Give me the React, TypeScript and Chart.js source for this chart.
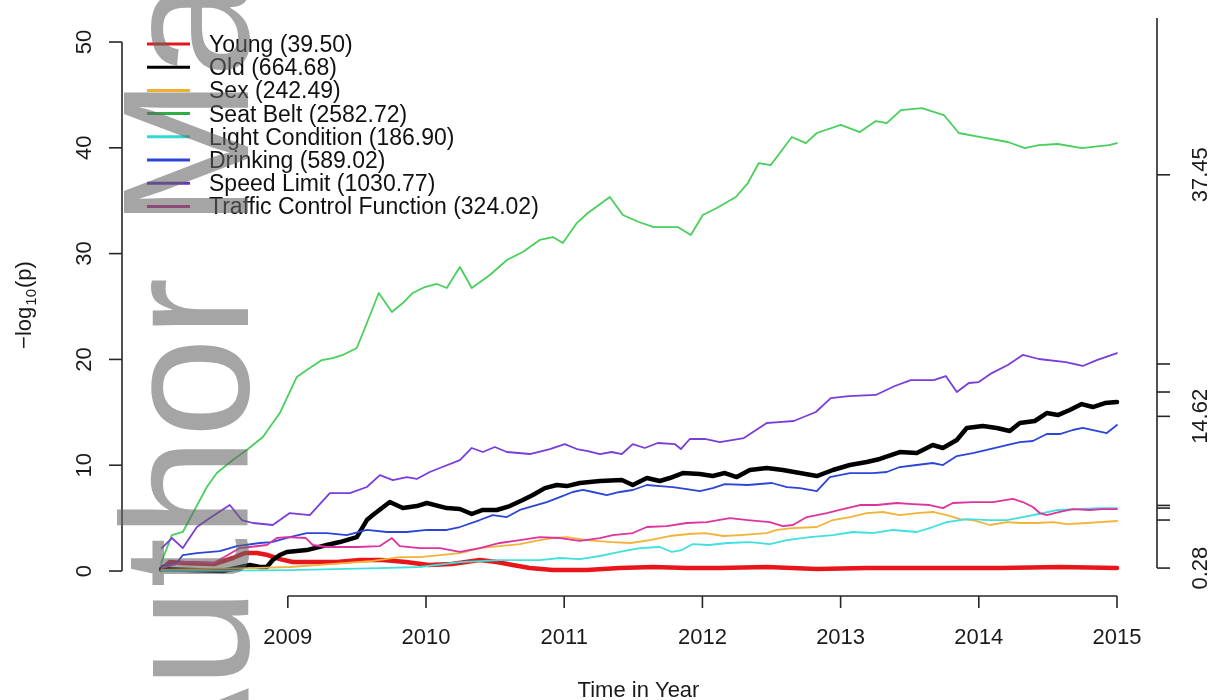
import React, { useEffect, useRef } from "react";
import { Chart, registerables } from "chart.js";

Chart.register(...registerables);

const FONT = '"Liberation Sans", Arial, Helvetica, sans-serif';

// ---- data: [decimal year, -log10(p)] ----
const young: [number, number][] = [
  [2008.083, 0.1], [2008.146, 0.85], [2008.247, 0.76], [2008.465, 0.66], [2008.602, 1.23], [2008.689, 1.7],
  [2008.776, 1.7], [2008.855, 1.51], [2008.942, 1.13], [2009.036, 0.85], [2009.159, 0.85], [2009.355, 0.85],
  [2009.521, 1.04], [2009.687, 1.04], [2009.854, 0.85], [2010.02, 0.57], [2010.187, 0.66], [2010.389, 1.04],
  [2010.512, 0.85], [2010.628, 0.57], [2010.751, 0.28], [2010.918, 0.09], [2011.164, 0.09], [2011.402, 0.28],
  [2011.641, 0.38], [2011.887, 0.28], [2012.126, 0.28], [2012.466, 0.38], [2012.828, 0.19], [2013.19, 0.28],
  [2013.667, 0.28], [2014.152, 0.28], [2014.586, 0.38], [2015.0, 0.28],
];

const old: [number, number][] = [
  [2008.083, 0.2], [2008.291, 0.09], [2008.53, 0.0], [2008.725, 0.57], [2008.797, 0.38], [2008.848, 0.38],
  [2008.891, 1.04], [2008.942, 1.51], [2008.993, 1.8], [2009.137, 1.98], [2009.282, 2.46], [2009.376, 2.74],
  [2009.499, 3.21], [2009.572, 4.82], [2009.615, 5.29], [2009.738, 6.52], [2009.832, 5.95], [2009.933, 6.14],
  [2010.006, 6.43], [2010.15, 5.95], [2010.245, 5.86], [2010.331, 5.39], [2010.411, 5.77], [2010.512, 5.77],
  [2010.606, 6.14], [2010.7, 6.71], [2010.773, 7.18], [2010.86, 7.84], [2010.946, 8.13], [2011.019, 8.03],
  [2011.113, 8.32], [2011.258, 8.51], [2011.417, 8.6], [2011.496, 8.13], [2011.598, 8.79], [2011.692, 8.51],
  [2011.764, 8.79], [2011.858, 9.26], [2011.981, 9.17], [2012.075, 8.98], [2012.162, 9.26], [2012.249, 8.88],
  [2012.343, 9.55], [2012.466, 9.74], [2012.582, 9.55], [2012.705, 9.26], [2012.828, 8.98], [2012.944, 9.55],
  [2013.067, 10.02], [2013.19, 10.3], [2013.284, 10.59], [2013.428, 11.25], [2013.551, 11.15], [2013.667, 11.91],
  [2013.74, 11.63], [2013.841, 12.38], [2013.913, 13.52], [2014.029, 13.71], [2014.13, 13.52], [2014.224, 13.23],
  [2014.297, 13.99], [2014.405, 14.18], [2014.492, 14.93], [2014.572, 14.74], [2014.658, 15.22], [2014.745, 15.78],
  [2014.825, 15.5], [2014.912, 15.88], [2015.0, 15.97],
];

const sex: [number, number][] = [
  [2008.083, 0.1], [2008.725, 0.28], [2009.014, 0.38], [2009.304, 0.66], [2009.615, 0.95], [2009.81, 1.32],
  [2009.955, 1.32], [2010.1, 1.51], [2010.245, 1.7], [2010.389, 2.17], [2010.534, 2.36], [2010.679, 2.55],
  [2010.823, 2.93], [2010.918, 3.12], [2011.019, 3.21], [2011.164, 2.93], [2011.344, 2.74], [2011.482, 2.65],
  [2011.619, 2.93], [2011.764, 3.31], [2011.902, 3.5], [2012.017, 3.59], [2012.155, 3.31], [2012.271, 3.4],
  [2012.466, 3.59], [2012.538, 3.88], [2012.654, 4.06], [2012.828, 4.16], [2012.944, 4.82], [2013.067, 5.1],
  [2013.19, 5.48], [2013.305, 5.58], [2013.428, 5.29], [2013.551, 5.48], [2013.667, 5.58], [2013.768, 5.29],
  [2013.863, 4.91], [2013.957, 4.82], [2014.08, 4.35], [2014.203, 4.63], [2014.297, 4.54], [2014.42, 4.54],
  [2014.535, 4.63], [2014.637, 4.44], [2014.781, 4.54], [2014.876, 4.63], [2015.0, 4.73],
];

const seatBelt: [number, number][] = [
  [2008.083, 0.76], [2008.161, 3.4], [2008.24, 3.69], [2008.313, 5.48], [2008.414, 7.94], [2008.486, 9.26],
  [2008.602, 10.49], [2008.703, 11.44], [2008.819, 12.67], [2008.942, 14.93], [2009.065, 18.34], [2009.137, 19.0],
  [2009.246, 19.94], [2009.326, 20.13], [2009.398, 20.42], [2009.499, 21.08], [2009.572, 23.44], [2009.658, 26.28],
  [2009.753, 24.48], [2009.832, 25.33], [2009.904, 26.28], [2009.991, 26.84], [2010.078, 27.13], [2010.15, 26.75],
  [2010.245, 28.73], [2010.331, 26.75], [2010.462, 27.98], [2010.585, 29.4], [2010.7, 30.15], [2010.823, 31.29],
  [2010.918, 31.57], [2010.99, 31.0], [2011.091, 32.89], [2011.171, 33.84], [2011.33, 35.35], [2011.424, 33.65],
  [2011.54, 32.99], [2011.648, 32.51], [2011.822, 32.51], [2011.916, 31.76], [2012.003, 33.65], [2012.104, 34.31],
  [2012.242, 35.35], [2012.329, 36.67], [2012.408, 38.56], [2012.495, 38.37], [2012.647, 41.02], [2012.748, 40.45],
  [2012.828, 41.4], [2013.001, 42.16], [2013.139, 41.49], [2013.255, 42.53], [2013.334, 42.34], [2013.436, 43.57],
  [2013.588, 43.76], [2013.747, 43.1], [2013.855, 41.4], [2014.014, 41.02], [2014.21, 40.55], [2014.333, 39.98],
  [2014.434, 40.26], [2014.572, 40.36], [2014.745, 39.98], [2014.941, 40.26], [2015.0, 40.45],
];

const lightCondition: [number, number][] = [
  [2008.083, 0.0], [2009.014, 0.09], [2009.666, 0.28], [2009.955, 0.38], [2010.245, 0.85], [2010.534, 1.04],
  [2010.823, 1.04], [2010.968, 1.23], [2011.113, 1.13], [2011.258, 1.42], [2011.402, 1.8], [2011.547, 2.17],
  [2011.692, 2.27], [2011.779, 1.8], [2011.851, 1.98], [2011.931, 2.55], [2012.046, 2.46], [2012.184, 2.65],
  [2012.343, 2.74], [2012.488, 2.55], [2012.611, 2.93], [2012.777, 3.21], [2012.944, 3.4], [2013.088, 3.69],
  [2013.233, 3.59], [2013.378, 3.88], [2013.551, 3.69], [2013.667, 4.16], [2013.768, 4.63], [2013.913, 4.91],
  [2014.08, 4.82], [2014.203, 4.82], [2014.318, 5.1], [2014.434, 5.39], [2014.572, 5.77], [2014.716, 5.86],
  [2014.876, 5.95], [2015.0, 5.95],
];

const drinking: [number, number][] = [
  [2008.083, 0.5], [2008.197, 0.76], [2008.24, 1.51], [2008.342, 1.7], [2008.508, 1.89], [2008.631, 2.36],
  [2008.797, 2.65], [2008.884, 2.74], [2009.014, 3.21], [2009.137, 3.59], [2009.282, 3.59], [2009.427, 3.4],
  [2009.572, 3.88], [2009.716, 3.69], [2009.861, 3.69], [2010.006, 3.88], [2010.15, 3.88], [2010.245, 4.16],
  [2010.389, 4.82], [2010.483, 5.29], [2010.585, 5.1], [2010.679, 5.77], [2010.773, 6.14], [2010.874, 6.52],
  [2010.968, 6.99], [2011.062, 7.47], [2011.135, 7.66], [2011.207, 7.47], [2011.308, 7.18], [2011.402, 7.47],
  [2011.496, 7.66], [2011.598, 8.13], [2011.692, 8.03], [2011.786, 7.94], [2011.887, 7.75], [2011.981, 7.56],
  [2012.075, 7.84], [2012.162, 8.22], [2012.329, 8.13], [2012.502, 8.32], [2012.611, 7.94], [2012.705, 7.84],
  [2012.828, 7.56], [2012.922, 8.88], [2013.067, 9.26], [2013.233, 9.26], [2013.334, 9.36], [2013.428, 9.83],
  [2013.551, 10.02], [2013.667, 10.21], [2013.74, 10.02], [2013.841, 10.87], [2013.957, 11.15], [2014.058, 11.44],
  [2014.203, 11.91], [2014.297, 12.19], [2014.391, 12.29], [2014.492, 12.95], [2014.586, 12.95], [2014.68, 13.33],
  [2014.752, 13.52], [2014.926, 13.04], [2015.0, 13.8],
];

const speedLimit: [number, number][] = [
  [2008.088, 2.17], [2008.161, 3.12], [2008.24, 2.17], [2008.342, 4.16], [2008.436, 5.01], [2008.58, 6.24],
  [2008.667, 4.82], [2008.747, 4.54], [2008.891, 4.35], [2009.014, 5.48], [2009.159, 5.29], [2009.304, 7.37],
  [2009.449, 7.37], [2009.572, 7.94], [2009.666, 9.07], [2009.76, 8.6], [2009.861, 8.88], [2009.933, 8.7],
  [2010.027, 9.36], [2010.1, 9.74], [2010.245, 10.49], [2010.331, 11.63], [2010.411, 11.25], [2010.498, 11.72],
  [2010.585, 11.25], [2010.751, 11.06], [2010.896, 11.53], [2011.004, 12.0], [2011.091, 11.53], [2011.171, 11.34],
  [2011.258, 11.06], [2011.344, 11.25], [2011.417, 11.06], [2011.496, 12.0], [2011.583, 11.63], [2011.677, 12.1],
  [2011.8, 12.0], [2011.844, 11.53], [2011.909, 12.48], [2012.017, 12.48], [2012.126, 12.19], [2012.3, 12.57],
  [2012.466, 13.99], [2012.553, 14.08], [2012.661, 14.18], [2012.821, 15.03], [2012.929, 16.35], [2013.059, 16.54],
  [2013.255, 16.64], [2013.392, 17.49], [2013.508, 18.05], [2013.674, 18.05], [2013.761, 18.43], [2013.841, 16.92],
  [2013.928, 17.77], [2014.0, 17.86], [2014.094, 18.71], [2014.21, 19.47], [2014.318, 20.42], [2014.434, 20.04],
  [2014.63, 19.75], [2014.752, 19.38], [2014.854, 19.94], [2015.0, 20.6],
];

const trafficControl: [number, number][] = [
  [2008.088, 0.28], [2008.247, 0.85], [2008.465, 0.76], [2008.653, 2.17], [2008.725, 2.27], [2008.848, 2.46],
  [2008.92, 3.12], [2008.993, 3.21], [2009.13, 3.12], [2009.181, 2.46], [2009.282, 2.27], [2009.499, 2.27],
  [2009.666, 2.36], [2009.753, 3.12], [2009.81, 2.36], [2009.955, 2.17], [2010.1, 2.17], [2010.245, 1.8],
  [2010.389, 2.17], [2010.534, 2.65], [2010.679, 2.93], [2010.823, 3.21], [2010.968, 3.12], [2011.113, 2.84],
  [2011.258, 3.12], [2011.352, 3.4], [2011.496, 3.59], [2011.598, 4.16], [2011.742, 4.25], [2011.887, 4.54],
  [2012.032, 4.63], [2012.198, 5.01], [2012.329, 4.82], [2012.488, 4.63], [2012.582, 4.25], [2012.654, 4.35],
  [2012.756, 5.1], [2012.9, 5.48], [2012.994, 5.77], [2013.139, 6.24], [2013.262, 6.24], [2013.407, 6.43],
  [2013.522, 6.33], [2013.645, 6.24], [2013.74, 5.95], [2013.812, 6.43], [2013.957, 6.52], [2014.101, 6.52],
  [2014.246, 6.81], [2014.318, 6.52], [2014.391, 6.05], [2014.441, 5.48], [2014.492, 5.29], [2014.586, 5.58],
  [2014.68, 5.86], [2014.803, 5.77], [2014.897, 5.86], [2015.0, 5.86],
];

const seriesNames = [
  "Young (39.50)", "Old (664.68)", "Sex (242.49)", "Seat Belt (2582.72)",
  "Light Condition (186.90)", "Drinking (589.02)", "Speed Limit (1030.77)", "Traffic Control Function (324.02)",
];
const seriesData = [young, old, sex, seatBelt, lightCondition, drinking, speedLimit, trafficControl];
const seriesColors = ["#e8161b", "#000000", "#f2b338", "#48cf5c", "#3fe0dd", "#2b45d8", "#7a3ddb", "#de339f"];
const legendColors = ["#e3161b", "#000000", "#efb12f", "#2fae44", "#35d6d3", "#2b45d8", "#6a30c8", "#c9288f"];
const seriesWidths = [4.5, 4.5, 1.8, 1.8, 1.8, 1.8, 1.8, 1.8];

const leftTicks = [0, 10, 20, 30, 40, 50];
const xTicks = [2009, 2010, 2011, 2012, 2013, 2014, 2015];
const rightTickValues = [0.28, 4.82, 5.95, 6.2, 14.62, 16.92, 19.57, 37.45];
const rightTickLabels = ["0.28", "", "", "", "14.62", "", "", "37.45"];

const rPlot = {
  id: "rPlot",
  afterDraw(chart: any) {
    const { ctx, chartArea } = chart;
    const xs = chart.scales.x;
    const ys = chart.scales.y;
    ctx.save();
    ctx.strokeStyle = "#262626";
    ctx.fillStyle = "#1a1a1a";
    ctx.lineWidth = 1.6;
    ctx.font = `22px ${FONT}`;

    // left axis
    const lx = chartArea.left;
    ctx.beginPath();
    ctx.moveTo(lx, ys.getPixelForValue(leftTicks[0]));
    ctx.lineTo(lx, ys.getPixelForValue(leftTicks[leftTicks.length - 1]));
    ctx.stroke();
    leftTicks.forEach((t) => {
      const py = ys.getPixelForValue(t);
      ctx.beginPath();
      ctx.moveTo(lx, py);
      ctx.lineTo(lx - 13, py);
      ctx.stroke();
      ctx.save();
      ctx.translate(lx - 31, py);
      ctx.rotate(-Math.PI / 2);
      ctx.textAlign = "center";
      ctx.textBaseline = "alphabetic";
      ctx.fillText(String(t), 0, 0);
      ctx.restore();
    });

    // right axis
    const rx = chartArea.right + 2;
    ctx.beginPath();
    ctx.moveTo(rx, ys.getPixelForValue(rightTickValues[0]));
    ctx.lineTo(rx, chartArea.top);
    ctx.stroke();
    rightTickValues.forEach((t, i) => {
      const py = ys.getPixelForValue(t);
      ctx.beginPath();
      ctx.moveTo(rx, py);
      ctx.lineTo(rx + 13, py);
      ctx.stroke();
      if (rightTickLabels[i]) {
        ctx.save();
        ctx.translate(rx + 50, py);
        ctx.rotate(-Math.PI / 2);
        ctx.textAlign = "center";
        ctx.textBaseline = "alphabetic";
        ctx.fillText(rightTickLabels[i], 0, 0);
        ctx.restore();
      }
    });

    // bottom axis
    const by = chartArea.bottom;
    ctx.beginPath();
    ctx.moveTo(xs.getPixelForValue(xTicks[0]), by);
    ctx.lineTo(xs.getPixelForValue(xTicks[xTicks.length - 1]), by);
    ctx.stroke();
    ctx.textAlign = "center";
    ctx.textBaseline = "alphabetic";
    xTicks.forEach((t) => {
      const px = xs.getPixelForValue(t);
      ctx.beginPath();
      ctx.moveTo(px, by);
      ctx.lineTo(px, by + 12);
      ctx.stroke();
      ctx.fillText(String(t), px, by + 48);
    });

    // axis titles
    ctx.fillText("Time in Year", (chartArea.left + chartArea.right) / 2, 697);
    ctx.save();
    ctx.translate(31, 305);
    ctx.rotate(-Math.PI / 2);
    ctx.textAlign = "left";
    const p1 = "\u2212log";
    const p2 = "10";
    const p3 = "(p)";
    ctx.font = `22px ${FONT}`;
    const w1 = ctx.measureText(p1).width;
    const w3 = ctx.measureText(p3).width;
    ctx.font = `15px ${FONT}`;
    const w2 = ctx.measureText(p2).width;
    let cur = -(w1 + w2 + w3 + 2) / 2;
    ctx.font = `22px ${FONT}`;
    ctx.fillText(p1, cur, 0);
    cur += w1 + 1;
    ctx.font = `15px ${FONT}`;
    ctx.fillText(p2, cur, 5);
    cur += w2 + 1;
    ctx.font = `22px ${FONT}`;
    ctx.fillText(p3, cur, 0);
    ctx.restore();

    // legend
    ctx.font = `23px ${FONT}`;
    ctx.textAlign = "left";
    seriesNames.forEach((name, i) => {
      const yy = 44 + i * 23.2;
      ctx.strokeStyle = legendColors[i];
      ctx.lineWidth = 3;
      ctx.beginPath();
      ctx.moveTo(147, yy);
      ctx.lineTo(190, yy);
      ctx.stroke();
      ctx.fillStyle = "#111";
      ctx.fillText(name, 209, yy + 8);
    });

    // watermark
    ctx.save();
    ctx.font = `180px ${FONT}`;
    ctx.fillStyle = "rgba(100,100,100,0.58)";
    ctx.translate(248, 808);
    ctx.rotate(-Math.PI / 2);
    ctx.textAlign = "left";
    ctx.fillText("Author Manuscript", 0, 0);
    ctx.restore();

    ctx.restore();
  },
};

export default function App() {
  const ref = useRef<HTMLCanvasElement | null>(null);
  useEffect(() => {
    if (!ref.current) return;
    const datasets = seriesData.map((d, i) => ({
      label: seriesNames[i],
      data: d.map(([x, y]) => ({ x, y })),
      borderColor: seriesColors[i],
      backgroundColor: seriesColors[i],
      borderWidth: seriesWidths[i],
      pointRadius: 0,
      tension: 0,
      fill: false,
      borderJoinStyle: "round" as const,
      borderCapStyle: "round" as const,
      order: seriesData.length - i,
    }));
    const chart = new Chart(ref.current, {
      type: "line",
      data: { datasets },
      options: {
        responsive: false,
        animation: false,
        devicePixelRatio: 1,
        layout: { padding: { left: 122, right: 54, top: 18, bottom: 104 } },
        plugins: { legend: { display: false }, tooltip: { enabled: false } },
        scales: {
          x: { type: "linear", min: 2007.8, max: 2015.275, display: false },
          y: { type: "linear", min: -2.36, max: 52.27, display: false },
        },
      },
      plugins: [rPlot],
    });
    return () => chart.destroy();
  }, []);
  return (
    <div style={{ position: "absolute", left: 0, top: 0, width: 1209, height: 700, background: "#fff" }}>
      <canvas ref={ref} width={1209} height={700} style={{ display: "block" }} />
    </div>
  );
}
